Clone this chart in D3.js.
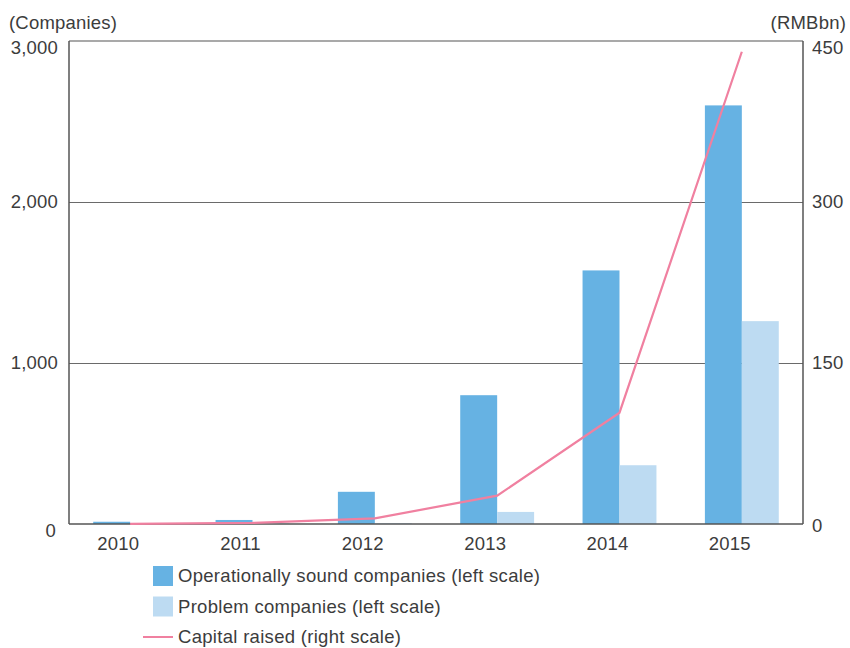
<!DOCTYPE html>
<html>
<head>
<meta charset="utf-8">
<script src="https://cdn.jsdelivr.net/npm/d3@7"></script>
<style>
  body { margin: 0; background: #fff; }
  svg text { font-family: "Liberation Sans", Arial, sans-serif; fill: #3c3c3c; letter-spacing: 0.2px; }
</style>
</head>
<body>
<div id="wrapper"></div>
<script>
const years = ["2010", "2011", "2012", "2013", "2014", "2015"];
const soundCompanies = [14, 25, 200, 800, 1575, 2600];
const problemCompanies = [0, 3, 5, 75, 365, 1260];
const capitalRaised = [0.1, 1, 5.3, 26.4, 103.7, 440];
const leftTicks = [0, 1000, 2000, 3000];
const rightTicks = [0, 150, 300, 450];

const fontSize = "18.5px";

const dimensions = {
  width: 850,
  height: 648,
  margins: { top: 41, right: 47, bottom: 124, left: 69 }
};
dimensions.boundedWidth = dimensions.width - dimensions.margins.left - dimensions.margins.right;
dimensions.boundedHeight = dimensions.height - dimensions.margins.top - dimensions.margins.bottom;

const wrapper = d3.select("#wrapper")
  .append("svg")
  .attr("width", dimensions.width)
  .attr("height", dimensions.height);

const bounds = wrapper.append("g")
  .attr("transform", `translate(${dimensions.margins.left},${dimensions.margins.top})`);

// scales
const xScale = d3.scaleBand()
  .domain(years)
  .range([0, dimensions.boundedWidth]);

const barW = xScale.bandwidth() * 0.302;

const yLeft = d3.scaleLinear()
  .domain([0, 3000])
  .range([dimensions.boundedHeight, 0]);

const yRight = d3.scaleLinear()
  .domain([0, 450])
  .range([dimensions.boundedHeight, 0]);

const center = (d) => xScale(d) + xScale.bandwidth() / 2;

// gridlines
bounds.append("g")
  .selectAll("line")
  .data(leftTicks.slice(1, 3))
  .enter()
  .append("line")
  .attr("x1", 0)
  .attr("x2", dimensions.boundedWidth)
  .attr("y1", d => Math.round(yLeft(d)) + 0.5)
  .attr("y2", d => Math.round(yLeft(d)) + 0.5)
  .attr("stroke", "#6a6a6a")
  .attr("stroke-width", 1);

// bars
bounds.append("g")
  .selectAll("rect")
  .data(years)
  .enter()
  .append("rect")
  .attr("x", (d) => center(d) - barW)
  .attr("y", (d, i) => yLeft(soundCompanies[i]))
  .attr("width", barW)
  .attr("height", (d, i) => dimensions.boundedHeight - yLeft(soundCompanies[i]))
  .attr("fill", "#66b2e3");

bounds.append("g")
  .selectAll("rect")
  .data(years)
  .enter()
  .append("rect")
  .attr("x", (d) => center(d))
  .attr("y", (d, i) => yLeft(problemCompanies[i]))
  .attr("width", barW)
  .attr("height", (d, i) => dimensions.boundedHeight - yLeft(problemCompanies[i]))
  .attr("fill", "#bddbf2");

// frame (left, right, bottom, top)
const frame = bounds.append("g").attr("stroke", "#555").attr("stroke-width", 1.5).attr("fill", "none");
frame.append("line").attr("x1", 0).attr("x2", 0).attr("y1", 0).attr("y2", dimensions.boundedHeight);
frame.append("line").attr("x1", dimensions.boundedWidth).attr("x2", dimensions.boundedWidth).attr("y1", 0).attr("y2", dimensions.boundedHeight);
frame.append("line").attr("x1", 0).attr("x2", dimensions.boundedWidth).attr("y1", dimensions.boundedHeight).attr("y2", dimensions.boundedHeight);
frame.append("line").attr("x1", 0).attr("x2", dimensions.boundedWidth).attr("y1", 0).attr("y2", 0).attr("stroke-width", 1.2);

// line
const lineGen = d3.line()
  .x((d, i) => center(years[i]))
  .y((d) => yRight(d));

bounds.append("path")
  .datum(capitalRaised)
  .attr("d", lineGen)
  .attr("fill", "none")
  .attr("stroke", "#f080a0")
  .attr("stroke-width", 2.2);

// axes
const leftAxis = bounds.append("g")
  .call(d3.axisLeft(yLeft).tickValues(leftTicks).tickSize(0).tickPadding(11).tickFormat(d3.format(",")));
leftAxis.select(".domain").remove();
leftAxis.selectAll("text")
  .style("font-size", fontSize)
  .attr("dy", (d) => d === 0 ? "0.7em" : d === 3000 ? "0.65em" : "0.32em")
  .attr("x", (d) => d === 0 ? -13 : -11);

const rightAxis = bounds.append("g")
  .attr("transform", `translate(${dimensions.boundedWidth},0)`)
  .call(d3.axisRight(yRight).tickValues(rightTicks).tickSize(0).tickPadding(9));
rightAxis.select(".domain").remove();
rightAxis.selectAll("text")
  .style("font-size", fontSize)
  .attr("dy", (d) => d === 0 ? "0.4em" : d === 450 ? "0.65em" : "0.32em");

const xAxis = bounds.append("g")
  .attr("transform", `translate(0,${dimensions.boundedHeight})`)
  .call(d3.axisBottom(xScale).tickSize(0).tickPadding(13));
xAxis.select(".domain").remove();
xAxis.selectAll("text")
  .style("font-size", fontSize)
  .attr("x", -12);

// unit labels
wrapper.append("text")
  .attr("x", 9)
  .attr("y", 29)
  .style("font-size", fontSize)
  .text("(Companies)");

wrapper.append("text")
  .attr("x", 846)
  .attr("y", 29)
  .attr("text-anchor", "end")
  .style("font-size", fontSize)
  .text("(RMBbn)");

// legend
const legendItems = [
  { label: "Operationally sound companies (left scale)", type: "rect", color: "#66b2e3" },
  { label: "Problem companies (left scale)", type: "rect", color: "#bddbf2" },
  { label: "Capital raised (right scale)", type: "line", color: "#f080a0" }
];

const legend = wrapper.append("g").attr("transform", "translate(0,576)");
legendItems.forEach((item, i) => {
  const g = legend.append("g").attr("transform", `translate(0,${i * 30.5})`);
  if (item.type === "rect") {
    g.append("rect").attr("x", 153).attr("y", -10).attr("width", 20).attr("height", 20).attr("fill", item.color);
  } else {
    g.append("line").attr("x1", 143).attr("x2", 173).attr("y1", 0).attr("y2", 0)
      .attr("stroke", item.color).attr("stroke-width", 2);
  }
  g.append("text")
    .attr("x", 178)
    .attr("y", 0)
    .attr("dy", "0.35em")
    .style("font-size", fontSize)
    .style("letter-spacing", "0.3px")
    .text(item.label);
});
</script>
</body>
</html>
